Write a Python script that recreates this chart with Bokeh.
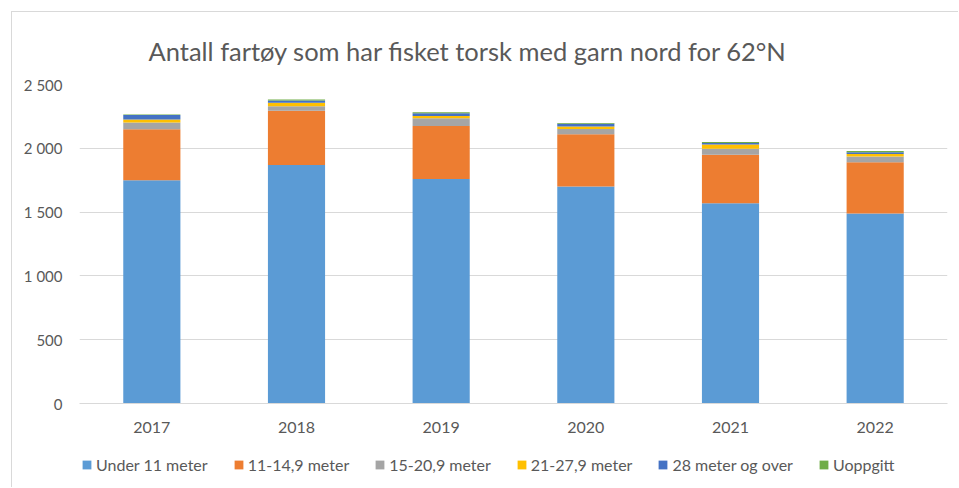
from bokeh.plotting import figure
from bokeh.layouts import column
from bokeh.models import (ColumnDataSource, FactorRange, Range1d, FixedTicker, Legend, LegendItem)
from bokeh.embed import file_html
from bokeh.resources import INLINE

# ---- data ----
years = ["2017", "2018", "2019", "2020", "2021", "2022"]
series_names = ["Under 11 meter", "11-14,9 meter", "15-20,9 meter", "21-27,9 meter",
                "28 meter og over", "Uoppgitt"]
under_11 = [1750, 1870, 1760, 1700, 1570, 1490]
m11_14 = [400, 425, 415, 410, 380, 400]
m15_20 = [52, 34, 60, 42, 47, 45]
m21_27 = [24, 27, 18, 18, 32, 20]
m28_over = [34, 18, 22, 22, 13, 15]
uoppgitt = [5, 8, 8, 6, 8, 8]
y_ticks = [0, 500, 1000, 1500, 2000, 2500]
y_tick_labels = ["0", "500", "1 000", "1 500", "2 000", "2 500"]
title_text = "Antall fartøy som har fisket torsk med garn nord for 62°N"

colors = ["#5B9BD5", "#ED7D31", "#A5A5A5", "#FFC000", "#4472C4", "#70AD47"]
keys = ["s0", "s1", "s2", "s3", "s4", "s5"]

src = ColumnDataSource(dict(years=years, s0=under_11, s1=m11_14, s2=m15_20,
                            s3=m21_27, s4=m28_over, s5=uoppgitt))

FONT = "Lato"
TXT = "#595959"

# ---- main chart ----
p = figure(width=946, height=436, x_range=FactorRange(*years), y_range=Range1d(0, 2500),
           output_backend="svg", toolbar_location=None,
           min_border_left=67, min_border_right=11, min_border_top=72, min_border_bottom=45)
p.x_range.range_padding = 0
p.outline_line_color = None
p.background_fill_color = "white"
p.border_fill_color = "white"

renderers = p.vbar_stack(keys, x="years", width=0.395, color=colors, source=src, line_color=None)

p.title.text = title_text
p.title.align = "left"
p.title.offset = 69
p.title.standoff = 37
p.title.text_font = FONT
p.title.text_font_size = "25.5px"
p.title.text_font_style = "normal"
p.title.text_color = TXT

p.yaxis.ticker = FixedTicker(ticks=y_ticks)
p.yaxis.major_label_overrides = {t: l for t, l in zip(y_ticks, y_tick_labels)}
p.yaxis.axis_line_color = None
p.yaxis.major_tick_line_color = None
p.yaxis.major_tick_out = 0
p.yaxis.major_tick_in = 0
p.yaxis.minor_tick_line_color = None
p.yaxis.major_label_standoff = 17
p.yaxis.major_label_text_font = FONT
p.yaxis.major_label_text_font_size = "15px"
p.yaxis.major_label_text_color = TXT

p.xaxis.axis_line_color = "#d9d9d9"
p.xaxis.axis_line_width = 1
p.xaxis.major_tick_line_color = None
p.xaxis.major_tick_out = 0
p.xaxis.major_tick_in = 0
p.xaxis.minor_tick_line_color = None
p.xaxis.major_label_standoff = 18
p.xaxis.major_label_text_font = FONT
p.xaxis.major_label_text_font_size = "16px"
p.xaxis.major_label_text_color = TXT

p.xgrid.grid_line_color = None
p.ygrid.grid_line_color = "#d9d9d9"
p.ygrid.grid_line_width = 1

# ---- legend strip (hidden copies of the series supply the legend swatches) ----
pl = figure(width=946, height=39, x_range=p.x_range, y_range=Range1d(0, 1),
            output_backend="svg", toolbar_location=None, x_axis_type=None, y_axis_type=None,
            min_border_left=0, min_border_right=0, min_border_top=0, min_border_bottom=0)
pl.outline_line_color = None
pl.xgrid.visible = False
pl.ygrid.visible = False
pl.border_fill_color = "white"
leg_renderers = pl.vbar_stack(keys, x="years", width=0.395, color=colors, source=src,
                              line_color=None)
for r in leg_renderers:
    r.visible = False
items = [LegendItem(label=n, renderers=[r]) for n, r in zip(series_names, leg_renderers)]
legend = Legend(items=items, location=(2, 13), orientation="horizontal",
                padding=0, margin=0, spacing=25, label_standoff=4,
                glyph_width=11, glyph_height=11, label_height=16,
                label_text_font=FONT, label_text_font_size="16px", label_text_color=TXT,
                inactive_fill_alpha=0,
                background_fill_alpha=0, border_line_color=None)
pl.add_layout(legend)

root = column(p, pl, spacing=0)
root.margin = (11, 0, 0, 11)
root.styles = {"border-top": "1px solid #d9d9d9", "border-left": "1px solid #d9d9d9"}

open("out.html", "w").write(file_html(root, INLINE))
